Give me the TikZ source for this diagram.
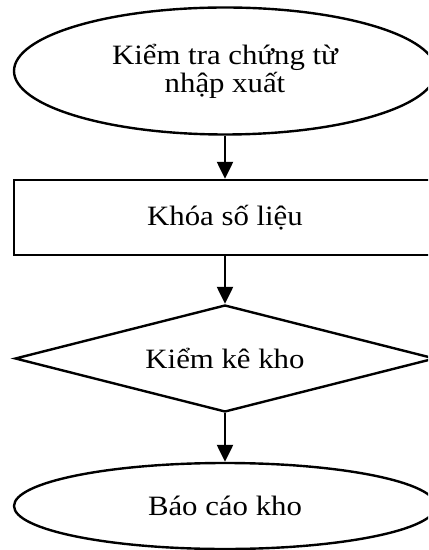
\documentclass[tikz,border=0pt]{standalone}
\usepackage{fontspec}
\setmainfont{Liberation Serif}[FakeStretch=1.1]
\usetikzlibrary{arrows.meta,positioning,shapes.geometric}

\begin{document}
\begin{tikzpicture}
[node distance=72pt,on grid,line width=1.2pt,
 font=\fontsize{14}{14}\selectfont,
 buoc/.style={draw,align=center,minimum width=211pt},
 >={Triangle[length=8.5pt,width=8pt]}]
      \clip (-112.5pt,35.5pt) rectangle (101.5pt,-239.5pt);
      \node[buoc,ellipse,minimum height=63.5pt] (kiemtra) {Kiểm tra chứng từ\\nhập xuất};
      \node[buoc,rectangle,minimum height=37.5pt] (khoa) [below=73.25pt of kiemtra] {Khóa số liệu};
      \node[buoc,diamond,aspect=4,inner sep=0pt,minimum width=210pt,minimum height=53.5pt] (kiemke) [below=70.5pt of khoa] {Kiểm kê kho};
      \node[buoc,ellipse,minimum height=43pt] (baocao) [below=73.75pt of kiemke] {Báo cáo kho};

      \path[->]
      (kiemtra) edge (khoa)
      (khoa) edge (kiemke)
      (kiemke) edge (baocao)
      ;

\end{tikzpicture}
\end{document}
